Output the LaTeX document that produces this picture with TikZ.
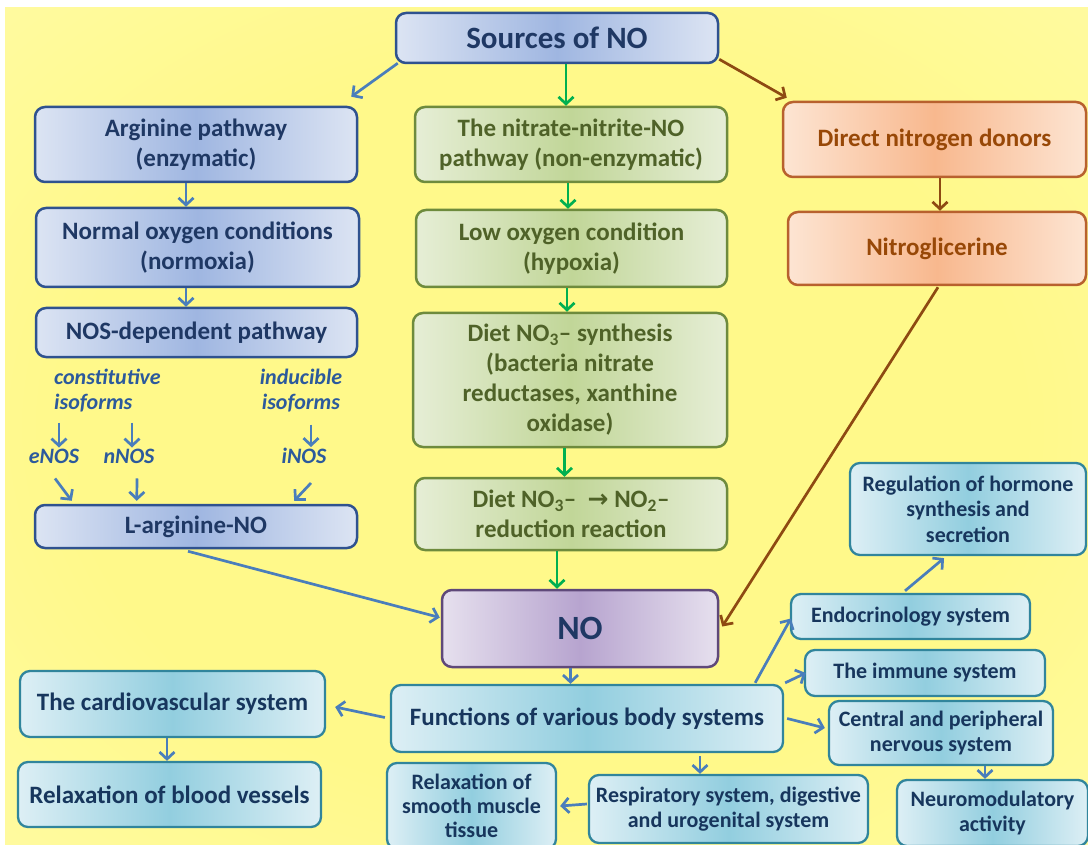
\documentclass[tikz,border=0pt]{standalone}
\usepackage{fontspec}
\setmainfont{Carlito}
\newfontfamily\arrowglyphs{DejaVu Sans}
\usetikzlibrary{arrows.meta,calc}

% palette
\definecolor{bgin}{HTML}{FFF98A}
\definecolor{bgmid}{HTML}{FFFBAE}
\definecolor{bgout}{HTML}{FFFEE6}
\definecolor{bluedraw}{HTML}{2F528F}
\definecolor{bluelt}{HTML}{DCE4F3}
\definecolor{bluemid}{HTML}{9FB6E1}
\definecolor{bluetxt}{HTML}{1F3864}
\definecolor{greendraw}{HTML}{6E8B3D}
\definecolor{greenlt}{HTML}{E6EED6}
\definecolor{greenmid}{HTML}{C1D698}
\definecolor{greentxt}{HTML}{4F6228}
\definecolor{orangedraw}{HTML}{B8612E}
\definecolor{orangelt}{HTML}{FDE5D3}
\definecolor{orangemid}{HTML}{F8B88E}
\definecolor{orangetxt}{HTML}{984807}
\definecolor{purpledraw}{HTML}{5F497A}
\definecolor{purplelt}{HTML}{E6E0EE}
\definecolor{purplemid}{HTML}{B7A4CF}
\definecolor{cyandraw}{HTML}{31859C}
\definecolor{cyanlt}{HTML}{DDEFF5}
\definecolor{cyanmid}{HTML}{92CEDF}
\definecolor{cyantxt}{HTML}{17365D}
\definecolor{labeltxt}{HTML}{2C5A9C}
\definecolor{arrblue}{HTML}{4A7EBB}
\definecolor{arrgreen}{HTML}{00B050}
\definecolor{arrbrown}{HTML}{8E4A12}

\pgfdeclareradialshading{bgglow}{\pgfpoint{0bp}{0bp}}{%
  color(0bp)=(bgin); color(22bp)=(bgin); color(45bp)=(bgmid); color(71bp)=(bgout)}

\tikzset{
  box/.style={rounded corners=10pt, line width=2.5pt, align=center, inner sep=0pt},
  bigtext/.style={font=\bfseries\fontsize{25}{29.5}\selectfont},
  smalltext/.style={font=\bfseries\fontsize{22}{25.5}\selectfont},
  bluebox/.style={box, bigtext, draw=bluedraw, left color=bluelt, right color=bluelt,
    middle color=bluemid, text=bluetxt},
  greenbox/.style={box, bigtext, draw=greendraw, left color=greenlt, right color=greenlt,
    middle color=greenmid, text=greentxt},
  orangebox/.style={box, bigtext, draw=orangedraw, left color=orangelt, right color=orangelt,
    middle color=orangemid, text=orangetxt},
  purplebox/.style={box, draw=purpledraw, left color=purplelt, right color=purplelt,
    middle color=purplemid, text=bluetxt, font=\bfseries\fontsize{34}{38}\selectfont},
  cyanbox/.style={box, draw=cyandraw, line width=2.3pt, left color=cyanlt, right color=cyanlt,
    middle color=cyanmid, text=cyantxt},
  isolabel/.style={text=labeltxt, inner sep=1pt, font=\bfseries\itshape\fontsize{22}{25}\selectfont},
  conn/.style={line width=2.7pt, -{Straight Barb[length=7pt,width=15pt]}},
  barr/.style={conn, draw=arrblue},
  garr/.style={conn, draw=arrgreen},
  oarr/.style={conn, draw=arrbrown},
}

\begin{document}
\begin{tikzpicture}[x=1pt,y=-1pt]
\useasboundingbox (0,0) rectangle (1088,845);
\clip (0,0) rectangle (1088,845);
\fill[white] (0,0) rectangle (1088,845);
\shade[shading=bgglow] (5,8) rectangle (1088,845);

% top
\node[bluebox, minimum width=322pt, minimum height=50pt] (src) at (557,38)
  {\fontsize{31}{35}\selectfont Sources of NO};

% arginine column
\node[bluebox, minimum width=322pt, minimum height=75pt] (arg) at (196,144.5)
  {Arginine pathway\\(enzymatic)};
\node[bluebox, minimum width=323pt, minimum height=79pt] (norm) at (197.5,247.5)
  {Normal oxygen conditions\\(normoxia)};
\node[bluebox, minimum width=321pt, minimum height=49pt] (nos) at (196.5,332.5)
  {NOS-dependent pathway};
\node[isolabel, anchor=west, align=left] (con) at (53,391) {constitutive\\isoforms};
\node[isolabel, align=center] (ind) at (301,391) {inducible\\ isoforms};
\node[isolabel] (enos) at (54,456) {eNOS};
\node[isolabel] (nnos) at (129,456) {nNOS};
\node[isolabel] (inos) at (304,456) {iNOS};
\node[bluebox, minimum width=322pt, minimum height=43pt] (larg) at (196,526.5)
  {L-arginine-NO};

% nitrate-nitrite column
\node[greenbox, minimum width=312pt, minimum height=75pt] (nit) at (571,144.5)
  {The nitrate-nitrite-NO\\pathway (non-enzymatic)};
\node[greenbox, minimum width=311pt, minimum height=77pt] (low) at (571.5,248.5)
  {Low oxygen condition\\(hypoxia)};
\node[greenbox, minimum width=314pt, minimum height=134pt, font=\bfseries\fontsize{25}{30}\selectfont] (syn) at (570,380)
  {Diet NO\textsubscript{3}– synthesis\\(bacteria nitrate\\reductases, xanthine\\oxidase)};
\node[greenbox, minimum width=312pt, minimum height=72pt] (dia) at (571,514)
  {Diet NO\textsubscript{3}–\ \ {\arrowglyphs\bfseries →} NO\textsubscript{2}–\\reduction reaction};

% direct donors column
\node[orangebox, minimum width=303pt, minimum height=75pt] (dir) at (934.5,139.5)
  {Direct nitrogen donors};
\node[orangebox, minimum width=298pt, minimum height=73pt] (ntg) at (937,248.5)
  {Nitroglicerine};

% NO and its targets
\node[purplebox, minimum width=276pt, minimum height=77pt] (no) at (580,628.5) {NO};
\node[cyanbox, bigtext, minimum width=392pt, minimum height=67pt] (func) at (587,718.5)
  {Functions of various body systems};
\node[cyanbox, bigtext, minimum width=305pt, minimum height=66pt] (cardio) at (172.5,704)
  {The cardiovascular system};
\node[cyanbox, bigtext, minimum width=303pt, minimum height=65pt] (relax) at (169.5,794.5)
  {Relaxation of blood vessels};
\node[cyanbox, font=\bfseries\fontsize{22}{24}\selectfont, minimum width=169pt, minimum height=86pt] (smooth) at (471.5,806)
  {Relaxation of\\smooth muscle\\tissue};
\node[cyanbox, smalltext, minimum width=279pt, minimum height=68pt] (resp) at (728.5,809)
  {Respiratory system, digestive\\and urogenital system};
\node[cyanbox, smalltext, minimum width=239pt, minimum height=45pt] (endo) at (910.5,616.5)
  {Endocrinology system};
\node[cyanbox, smalltext, minimum width=240pt, minimum height=46pt] (imm) at (925,673)
  {The immune system};
\node[cyanbox, smalltext, minimum width=224pt, minimum height=64pt] (cen) at (941,733)
  {Central and peripheral\\nervous system};
\node[cyanbox, smalltext, minimum width=191pt, minimum height=66pt] (neuro) at (992.5,813)
  {Neuromodulatory\\activity};
\node[cyanbox, smalltext, minimum width=236pt, minimum height=92pt] (reg) at (968,509)
  {Regulation of hormone\\synthesis and\\secretion};

% connectors from the source box
\draw[barr] ($(src.south west)+(3,-1)$) -- ($(arg.north east)+(-7,-9)$);
\draw[garr] ($(src.south)+(9,0)$) -- ($(nit.north)+(-5,0)$);
\draw[oarr] ($(src.south east)+(0,-5)$) -- ($(dir.north west)+(5,-3)$);

% arginine chain
\draw[barr] ($(arg.south)+(-10,0)$) -- ($(norm.north)+(-11.5,0)$);
\draw[barr] ($(norm.south)+(-11.5,0)$) -- ($(nos.north)+(-10.5,0)$);
\draw[barr] ($(enos.north |- con.south)+(5,9)$) -- ($(enos.north)+(5,0)$);
\draw[barr] ($(nnos.north |- con.south)+(3,9)$) -- ($(nnos.north)+(3,0)$);
\draw[barr] ($(inos.north |- ind.south)+(7,11)$) -- ($(inos.north)+(7,0)$);
\draw[barr] ($(enos.south)+(1,14)$) -- ($(larg.north west)+(38,-3)$);
\draw[barr] ($(nnos.south)+(8,14)$) -- ($(larg.north west)+(103,-3)$);
\draw[barr] ($(inos.south)+(7,18)$) -- ($(larg.north east)+(-64,-3)$);
\draw[barr] ($(larg.south)+(-8,2)$) -- ($(no.west)+(-1,-11)$);

% nitrate chain
\draw[garr] ($(nit.south)+(-3,0)$) -- ($(low.north)+(-3.5,0)$);
\draw[garr] ($(low.south)+(-4.5,0)$) -- ($(syn.north)+(-3,0)$);
\draw[garr] ($(syn.south)+(-5.5,0)$) -- ($(dia.north)+(-6.5,0)$);
\draw[garr] ($(dia.south)+(-14,0)$) -- ($(no.north)+(-23,0)$);

% direct donors chain
\draw[oarr] ($(dir.south)+(5.5,0)$) -- ($(ntg.north)+(3,0)$);
\draw[oarr] ($(ntg.south)+(1,1)$) -- ($(no.east)+(3,-2)$);

% effects of NO
\draw[barr] ($(no.south)+(-9.5,0)$) -- ($(func.north)+(-16.5,0)$);
\draw[barr] ($(func.west)+(-5,-1)$) -- ($(cardio.east)+(9,3)$);
\draw[barr] ($(cardio.south)+(-5.5,0)$) -- ($(relax.north)+(-2.5,0)$);
\draw[barr] ($(func.north east)+(-29,-1)$) -- ($(endo.west)+(1,2)$);
\draw[barr] ($(endo.north)+(-5.5,-2)$) -- ($(reg.south)+(-24,2)$);
\draw[barr] ($(func.north east)+(1,-1)$) -- ($(imm.west)+(2,0)$);
\draw[barr] ($(func.east)+(3,0)$) -- ($(cen.west)+(-3,-5)$);
\draw[barr] ($(func.south)+(113,3)$) -- ($(resp.north)+(-28.5,0)$);
\draw[barr] ($(resp.west)+(-1,-5)$) -- ($(smooth.east)+(3,0)$);
\draw[barr] ($(cen.south)+(44,0)$) -- ($(neuro.north)+(-7.5,0)$);
\end{tikzpicture}
\end{document}
